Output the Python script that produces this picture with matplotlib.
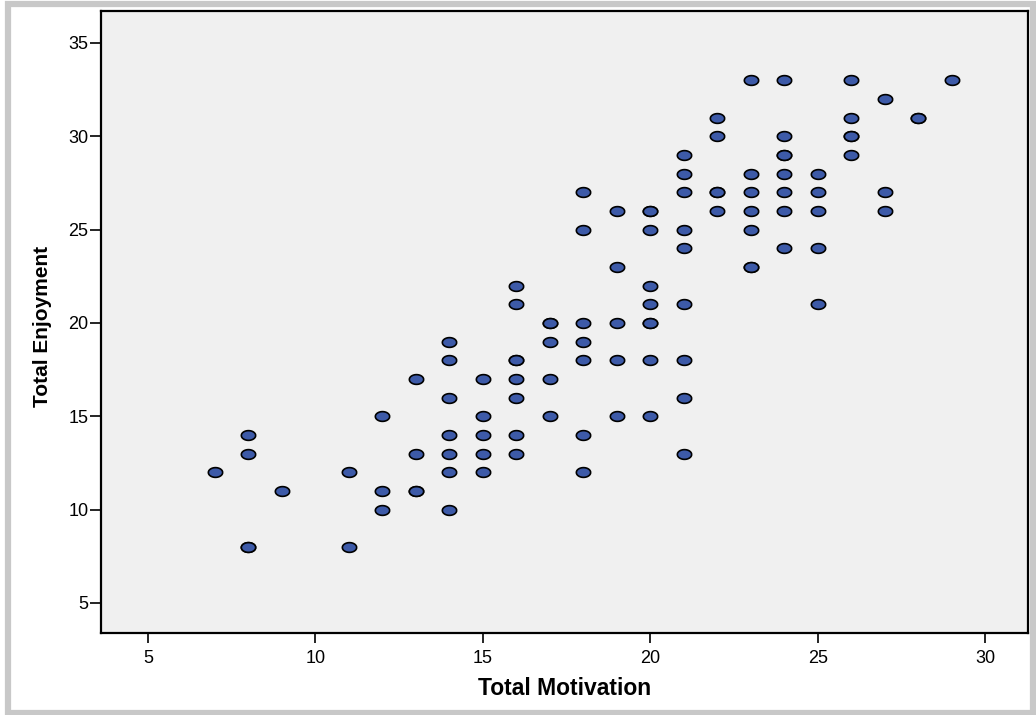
import numpy as np
import matplotlib
matplotlib.use("Agg")
import matplotlib.pyplot as plt
from matplotlib.patches import Rectangle

# Total Motivation (x) and Total Enjoyment (y) scores per respondent
motivation = [
    7,
    8, 8, 8, 8,
    9,
    11, 11,
    12, 12, 12,
    13, 13, 13, 13,
    14, 14, 14, 14, 14, 14, 14,
    15, 15, 15, 15, 15,
    16, 16, 16, 16, 16, 16, 16, 16,
    17, 17, 17, 17, 17,
    18, 18, 18, 18, 18, 18, 18,
    19, 19, 19, 19, 19,
    20, 20, 20, 20, 20, 20, 20, 20, 20,
    21, 21, 21, 21, 21, 21, 21, 21, 21,
    22, 22, 22, 22, 22,
    23, 23, 23, 23, 23, 23, 23,
    24, 24, 24, 24, 24, 24, 24, 24,
    25, 25, 25, 25, 25,
    26, 26, 26, 26, 26,
    27, 27, 27,
    28, 28,
    29,
]
enjoyment = [
    12,
    14, 13, 8, 8,
    11,
    12, 8,
    15, 11, 10,
    17, 13, 11, 11,
    19, 18, 16, 14, 13, 12, 10,
    17, 15, 14, 13, 12,
    22, 21, 18, 18, 17, 16, 14, 13,
    20, 20, 19, 17, 15,
    27, 25, 20, 19, 18, 14, 12,
    26, 23, 20, 18, 15,
    26, 26, 25, 22, 21, 20, 20, 18, 15,
    29, 28, 27, 25, 24, 21, 18, 16, 13,
    31, 30, 27, 27, 26,
    33, 28, 27, 26, 25, 23, 23,
    33, 30, 29, 29, 28, 27, 26, 24,
    28, 27, 26, 24, 21,
    33, 31, 30, 30, 29,
    32, 27, 26,
    31, 31,
    33,
]

x_ticks = [5, 10, 15, 20, 25, 30]
y_ticks = [5, 10, 15, 20, 25, 30, 35]

W, H = 1036, 715

# flattened ellipse marker
t = np.linspace(0, 2 * np.pi, 60)
ellipse = np.column_stack([np.cos(t), 0.68 * np.sin(t)])

fig = plt.figure(figsize=(W / 100, H / 100), dpi=100, facecolor="white")
# grey frame around the whole chart
fig.patches.append(Rectangle((7.5 / W, 2.0 / H), (1033 - 7.5) / W, (711 - 2.0) / H,
                             transform=fig.transFigure, fill=False,
                             edgecolor="#C8C8C8", linewidth=4.5, zorder=10))

ax = fig.add_axes([101 / W, (H - 633) / H, 927 / W, 622 / H])
ax.set_facecolor("#F0F0F0")
ax.plot(motivation, enjoyment, linestyle="none", marker=ellipse,
        markersize=10.3, markerfacecolor="#3D5AA8", markeredgecolor="black",
        markeredgewidth=1.2, zorder=3)

ax.set_xlim(3.596, 31.28)
ax.set_ylim(3.393, 36.71)
ax.set_xticks(x_ticks)
ax.set_yticks(y_ticks)
ax.tick_params(axis="x", direction="out", length=7, width=1.2, pad=5,
               labelsize=13, colors="black")
ax.tick_params(axis="y", direction="out", length=8, width=1.2, pad=1,
               labelsize=13, colors="black")
for lab in ax.get_xticklabels() + ax.get_yticklabels():
    lab.set_fontfamily(["Liberation Sans", "DejaVu Sans"])

for side in ["left", "bottom", "right", "top"]:
    ax.spines[side].set_linewidth(1.6)
    ax.spines[side].set_color("black")

label_family = ["Liberation Sans", "DejaVu Sans"]
ax.set_xlabel("Total Motivation", family=label_family, weight="bold", size=16.5,
              va="center", ha="center")
ax.set_ylabel("Total Enjoyment", family=label_family, weight="bold", size=15,
              va="center", ha="center")
ax.xaxis.set_label_coords(0.5005, -0.090)
ax.yaxis.set_label_coords(-0.0636, 0.4936)

fig.savefig("out.png", dpi=100, facecolor="white")
